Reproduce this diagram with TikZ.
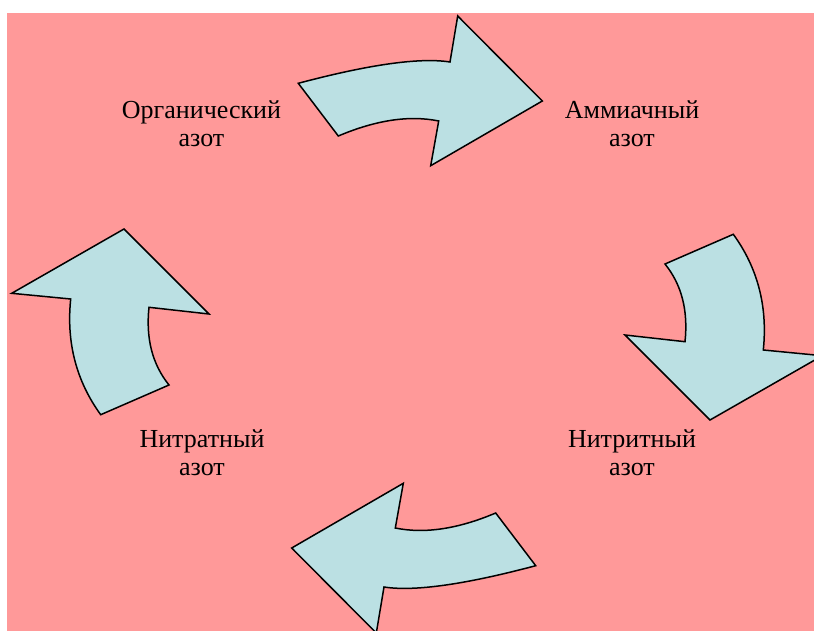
\documentclass[tikz,border=0pt]{standalone}
\usepackage{fontspec}
\setmainfont{Liberation Serif}
\definecolor{bgpink}{RGB}{255,153,153}
\definecolor{arrowblue}{RGB}{187,224,227}
\begin{document}
\begin{tikzpicture}[x=1pt,y=-1pt,
  bigarrow/.style={fill=arrowblue,draw=black,line width=1.5pt,line join=miter},
  label/.style={font=\fontsize{26}{28}\selectfont,align=center,anchor=base,inner sep=0pt}]
\useasboundingbox (0,0) rectangle (814,631);
\clip (0,0) rectangle (814,631);
\fill[white] (0,0) rectangle (814,631);
\fill[bgpink] (7,13) rectangle (814,631);
% top arrow (organic -> ammonia)
\draw[bigarrow] (298.3,83.3) .. controls (369.4,64.4) and (420,57.3) .. (450,62) -- (457.7,16) -- (542.3,101)
  -- (430.7,165.7) -- (438.7,121) .. controls (409.6,115) and (376.1,120) .. (338.3,136) -- cycle;
% right arrow (ammonia -> nitrite)
\draw[bigarrow] (665,264) -- (733.3,234.3) .. controls (757.8,268.1) and (767.8,306.7) .. (763.3,350) -- (822.3,355.7)
  -- (710,420) -- (625,335) -- (685,341.7) .. controls (688.3,310.6) and (681.7,284.7) .. (665,264) -- cycle;
% bottom arrow (nitrite -> nitrate)
\draw[bigarrow] (535.7,565.7) .. controls (464.6,584.6) and (414,591.7) .. (384,587) -- (376.3,633) -- (291.7,548)
  -- (403.3,483.3) -- (395.3,528) .. controls (424.4,534) and (457.9,529) .. (495.7,513) -- cycle;
% left arrow (nitrate -> organic)
\draw[bigarrow] (169,385) -- (100.7,414.7) .. controls (76.2,380.9) and (66.2,342.3) .. (70.7,299) -- (11.7,293.3)
  -- (124,229) -- (209,314) -- (149,307.3) .. controls (145.7,338.4) and (152.3,364.3) .. (169,385) -- cycle;
\node[label] (org) at (201.5,147) {Органический\\азот};
\node[label] (amm) at (632,147) {Аммиачный\\азот};
\node[label] (nitrit) at (632,475) {Нитритный\\азот};
\node[label] (nitrat) at (202,475) {Нитратный\\азот};
\end{tikzpicture}
\end{document}
